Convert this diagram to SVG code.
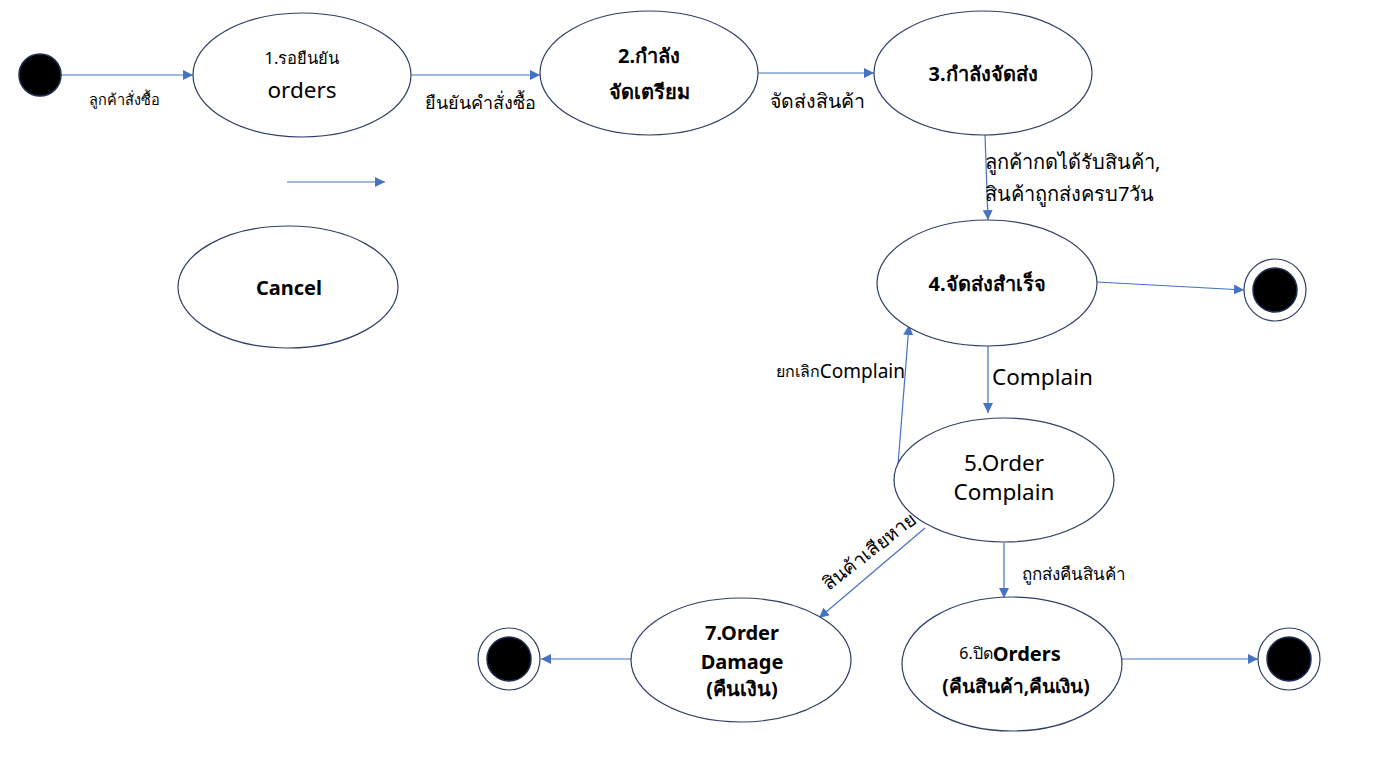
<svg xmlns="http://www.w3.org/2000/svg" width="1385" height="766" viewBox="0 0 1385 766">
<defs>
<marker id="arr" viewBox="0 0 10 10" refX="10" refY="5" markerWidth="10" markerHeight="10" markerUnits="userSpaceOnUse" orient="auto">
<path d="M0,0 L10,5 L0,10 z" fill="#4472C4"/>
</marker>
</defs>
<style>
.st{fill:#fff;stroke:#2F3F66;stroke-width:1.2}
.e{stroke:#4472C4;stroke-width:1.2;fill:none;marker-end:url(#arr)}
text{font-family:"Noto Sans","DejaVu Sans",sans-serif;fill:#000;text-anchor:middle;dominant-baseline:central}
.b{font-weight:bold;font-size:20px}
.n{font-size:22.5px}
.l{font-size:18px}
.s{font-size:14.5px}
.dot{fill:#000;stroke:#1F2F55;stroke-width:1.5}
.ring{fill:#fff;stroke:#2F3F66;stroke-width:1.2}
</style>
<rect width="1385" height="766" fill="#fff"/>
<g id="connectors">
<line class="e" x1="61" y1="75" x2="193" y2="75"/>
<line class="e" x1="411" y1="75" x2="540" y2="75"/>
<line class="e" x1="758" y1="73" x2="874" y2="73"/>
<line class="e" x1="985" y1="135" x2="988" y2="220"/>
<line class="e" x1="1097" y1="282" x2="1244" y2="290"/>
<line class="e" x1="988" y1="346" x2="988" y2="413"/>
<line class="e" x1="898" y1="465" x2="909" y2="325"/>
<line class="e" x1="925" y1="528" x2="819" y2="618"/>
<line class="e" x1="1004" y1="543" x2="1004" y2="598"/>
<line class="e" x1="1122" y1="659" x2="1258" y2="659"/>
<line class="e" x1="632" y1="659" x2="541" y2="659"/>
<line class="e" x1="287" y1="182" x2="385" y2="182"/>
<text class="s" x="124" y="99">ลูกค้าสั่งซื้อ</text>
<text class="l" x="480" y="102">ยืนยันคำสั่งซื้อ</text>
<text class="l" style="font-size:19.5px" x="817" y="100">จัดส่งสินค้า</text>
<text class="l" x="985" y="161" style="text-anchor:start;font-size:20px">ลูกค้ากดได้รับสินค้า,</text>
<text class="l" x="985" y="193" style="text-anchor:start;font-size:20px">สินค้าถูกส่งครบ7วัน</text>
<text class="n" x="992" y="376" style="text-anchor:start">Complain</text>
<text x="905" y="371" style="text-anchor:end;font-size:19px"><tspan style="font-size:16px">ยกเลิก</tspan>Complain</text>
<text class="l" style="font-size:19px" x="869" y="551" transform="rotate(-38 869 551)">สินค้าเสียหาย</text>
<text class="l" style="font-size:17px;text-anchor:start" x="1022" y="573">ถูกส่งคืนสินค้า</text>
</g>
<g id="start"><circle class="dot" cx="40" cy="75" r="21"/></g>
<g id="s1"><ellipse class="st" cx="302" cy="75" rx="109" ry="62"/><text style="font-size:16.5px" x="302" y="57">1.รอยืนยัน</text><text class="n" x="302" y="89">orders</text></g>
<g id="s2"><ellipse class="st" cx="649" cy="73" rx="109" ry="62"/><text class="b" x="649" y="55">2.กำลัง</text><text class="b" x="649" y="91">จัดเตรียม</text></g>
<g id="s3"><ellipse class="st" cx="983" cy="73" rx="109" ry="62"/><text class="b" x="983" y="73">3.กำลังจัดส่ง</text></g>
<g id="s4"><ellipse class="st" cx="987" cy="283" rx="110" ry="63"/><text class="b" x="987" y="283">4.จัดส่งสำเร็จ</text></g>
<g id="s5"><ellipse class="st" cx="1004" cy="480" rx="110" ry="62"/><text class="n" x="1004" y="462">5.Order</text><text class="n" x="1004" y="491">Complain</text></g>
<g id="s6"><ellipse class="st" cx="1012" cy="664" rx="110" ry="67"/><text class="b" x="1010" y="653"><tspan style="font-weight:normal;font-size:16px">6.ปิด</tspan>Orders</text><text class="b" style="font-size:19px" x="1016" y="686">(คืนสินค้า,คืนเงิน)</text></g>
<g id="s7"><ellipse class="st" cx="741" cy="660" rx="110" ry="62"/><text class="b" x="742" y="632">7.Order</text><text class="b" x="742" y="661">Damage</text><text class="b" x="742" y="688">(คืนเงิน)</text></g>
<g id="cancel"><ellipse class="st" cx="288" cy="287" rx="110" ry="61"/><text class="b" x="289" y="287">Cancel</text></g>
<g id="end1"><circle class="ring" cx="1275" cy="290" r="31"/><circle class="dot" cx="1275" cy="290" r="22"/></g>
<g id="end2"><circle class="ring" cx="1289" cy="659" r="31"/><circle class="dot" cx="1289" cy="659" r="22"/></g>
<g id="end3"><circle class="ring" cx="509" cy="659" r="31"/><circle class="dot" cx="509" cy="659" r="22"/></g>
</svg>
